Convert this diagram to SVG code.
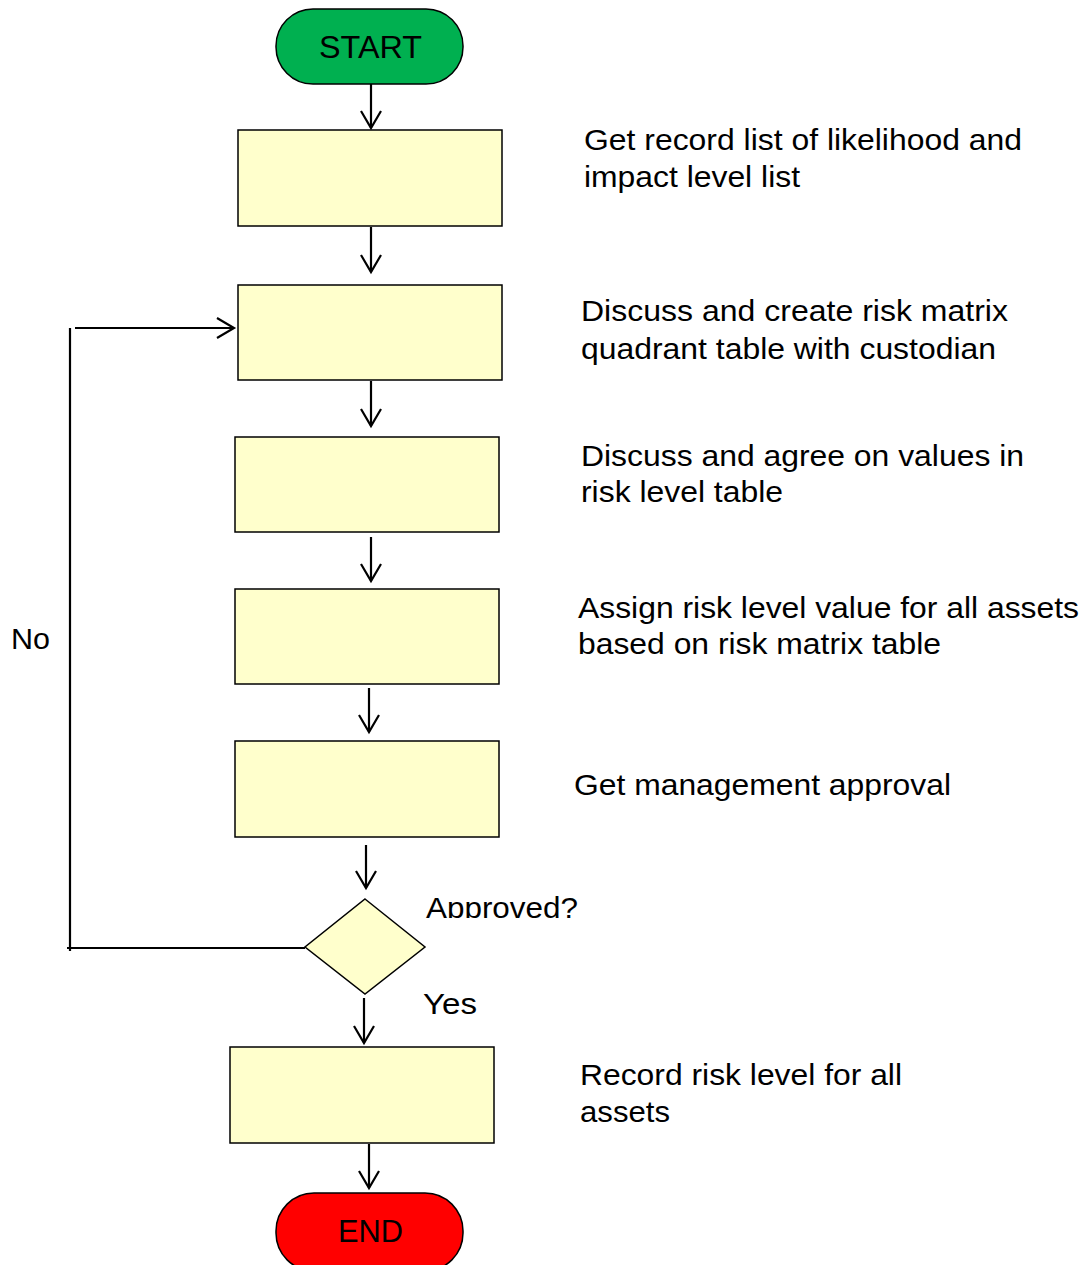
<svg xmlns="http://www.w3.org/2000/svg" width="1089" height="1265" viewBox="0 0 1089 1265">
  <style>
    .box { fill: #ffffcc; stroke: #000; stroke-width: 1.5; }
    .conn { fill: none; stroke: #000; stroke-width: 2.2; }
    .lbl { font-family: "Liberation Sans", Arial, sans-serif; font-size: 29px; fill: #000; }
    .term { font-family: "Liberation Sans", Arial, sans-serif; font-size: 31px; fill: #000; }
  </style>
  <defs>
    <marker id="open" markerWidth="22" markerHeight="24" refX="19" refY="12" orient="auto" markerUnits="userSpaceOnUse">
      <path d="M2,2 L19,12 L2,22" fill="none" stroke="#000" stroke-width="2.2"/>
    </marker>
    <clipPath id="clipQ"><rect x="400" y="880" width="300" height="38"/></clipPath>
  </defs>

  <g id="connectors">
    <line class="conn" x1="371" y1="84" x2="371" y2="128" marker-end="url(#open)"/>
    <line class="conn" x1="371" y1="227" x2="371" y2="272" marker-end="url(#open)"/>
    <line class="conn" x1="371" y1="381" x2="371" y2="426" marker-end="url(#open)"/>
    <line class="conn" x1="371" y1="537" x2="371" y2="581" marker-end="url(#open)"/>
    <line class="conn" x1="369" y1="688" x2="369" y2="732" marker-end="url(#open)"/>
    <line class="conn" x1="366" y1="845" x2="366" y2="888" marker-end="url(#open)"/>
    <line class="conn" x1="364" y1="998" x2="364" y2="1043" marker-end="url(#open)"/>
    <line class="conn" x1="369" y1="1144" x2="369" y2="1188" marker-end="url(#open)"/>
    <!-- "No" loop back to the second step -->
    <polyline class="conn" points="305,948 67,948"/>
    <line class="conn" x1="70" y1="951" x2="70" y2="328"/>
    <line class="conn" x1="75" y1="328" x2="234" y2="328" marker-end="url(#open)"/>
  </g>

  <g id="start">
    <rect x="276" y="9" width="187" height="75" rx="37" ry="37" fill="#00b050" stroke="#000" stroke-width="1.5"/>
    <text class="term" x="319" y="58" textLength="103" lengthAdjust="spacingAndGlyphs">START</text>
  </g>

  <g id="step1">
    <rect class="box" x="238" y="130" width="264" height="96"/>
    <text class="lbl" x="584" y="150" textLength="438" lengthAdjust="spacingAndGlyphs">Get record list of likelihood and</text>
    <text class="lbl" x="584" y="187" textLength="216" lengthAdjust="spacingAndGlyphs">impact level list</text>
  </g>

  <g id="step2">
    <rect class="box" x="238" y="285" width="264" height="95"/>
    <text class="lbl" x="581" y="321" textLength="427" lengthAdjust="spacingAndGlyphs">Discuss and create risk matrix</text>
    <text class="lbl" x="581" y="359" textLength="415" lengthAdjust="spacingAndGlyphs">quadrant table with custodian</text>
  </g>

  <g id="step3">
    <rect class="box" x="235" y="437" width="264" height="95"/>
    <text class="lbl" x="581" y="466" textLength="443" lengthAdjust="spacingAndGlyphs">Discuss and agree on values in</text>
    <text class="lbl" x="581" y="502" textLength="202" lengthAdjust="spacingAndGlyphs">risk level table</text>
  </g>

  <g id="step4">
    <rect class="box" x="235" y="589" width="264" height="95"/>
    <text class="lbl" x="578" y="618" textLength="501" lengthAdjust="spacingAndGlyphs">Assign risk level value for all assets</text>
    <text class="lbl" x="578" y="654" textLength="363" lengthAdjust="spacingAndGlyphs">based on risk matrix table</text>
  </g>

  <g id="step5">
    <rect class="box" x="235" y="741" width="264" height="96"/>
    <text class="lbl" x="574" y="795" textLength="377" lengthAdjust="spacingAndGlyphs">Get management approval</text>
  </g>

  <g id="decision">
    <polygon class="box" points="365,899 425,947 365,994 305,947"/>
    <text class="lbl" x="426" y="918" clip-path="url(#clipQ)" textLength="152" lengthAdjust="spacingAndGlyphs">Approved?</text>
    <text class="lbl" x="423" y="1014" textLength="54" lengthAdjust="spacingAndGlyphs">Yes</text>
    <text class="lbl" x="11" y="649" textLength="39" lengthAdjust="spacingAndGlyphs">No</text>
  </g>

  <g id="step6">
    <rect class="box" x="230" y="1047" width="264" height="96"/>
    <text class="lbl" x="580" y="1085" textLength="322" lengthAdjust="spacingAndGlyphs">Record risk level for all</text>
    <text class="lbl" x="580" y="1122" textLength="90" lengthAdjust="spacingAndGlyphs">assets</text>
  </g>

  <g id="end">
    <rect x="276" y="1193" width="187" height="78" rx="38" ry="38" fill="#ff0000" stroke="#000" stroke-width="1.5"/>
    <text class="term" x="338" y="1242" textLength="65" lengthAdjust="spacingAndGlyphs">END</text>
  </g>
</svg>
